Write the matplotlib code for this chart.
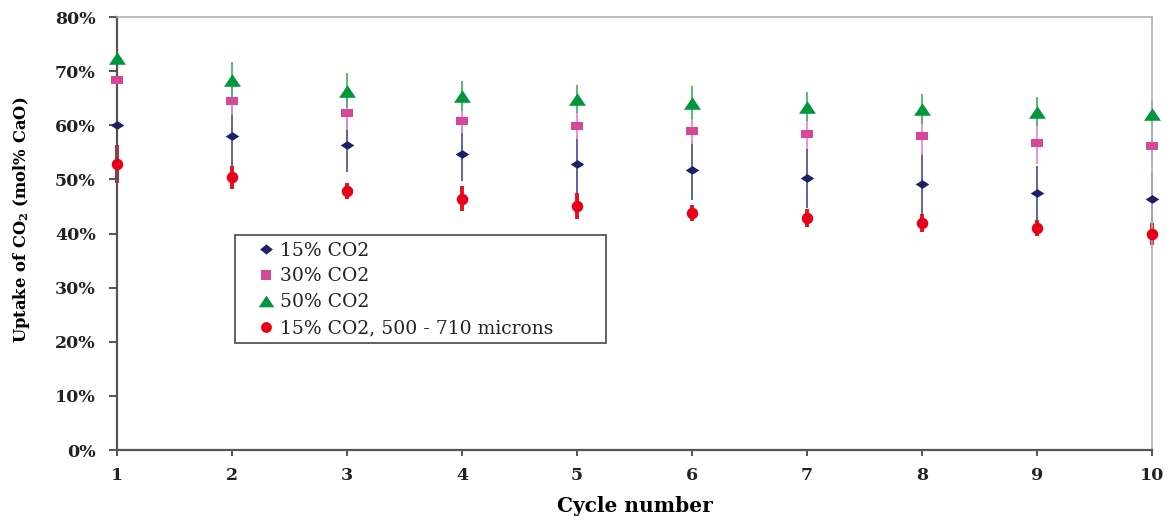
import matplotlib
matplotlib.use("Agg")
import matplotlib.pyplot as plt
from matplotlib.lines import Line2D
from matplotlib.patches import Rectangle
from matplotlib.ticker import PercentFormatter

cycles = [1, 2, 3, 4, 5, 6, 7, 8, 9, 10]

co2_15 = [60.0, 58.0, 56.3, 54.6, 52.8, 51.7, 50.2, 49.2, 47.4, 46.4]
co2_15_err = [5.7, 5.5, 4.9, 4.9, 5.3, 5.5, 5.5, 5.7, 5.0, 4.9]

co2_30 = [68.4, 64.5, 62.3, 60.8, 59.9, 59.0, 58.4, 58.0, 56.8, 56.2]
co2_30_err = [2.8, 2.6, 3.2, 2.3, 2.5, 2.5, 2.7, 3.5, 3.9, 4.1]

co2_50 = [72.4, 68.3, 66.4, 65.4, 64.8, 64.2, 63.4, 63.0, 62.5, 62.0]
co2_50_err = [3.5, 3.3, 3.3, 2.8, 2.6, 3.1, 2.7, 2.7, 2.7, 2.4]

co2_15_big = [52.8, 50.4, 47.9, 46.4, 45.1, 43.8, 42.9, 41.9, 41.0, 39.9]
co2_15_big_err = [3.5, 2.1, 1.5, 2.3, 2.4, 1.5, 1.7, 1.7, 1.5, 2.0]

labels = ["15% CO2", "30% CO2", "50% CO2", "15% CO2, 500 - 710 microns"]

plt.rcParams['font.family'] = ['DejaVu Serif']
plt.rcParams['mathtext.fontset'] = 'custom'
plt.rcParams['mathtext.rm'] = 'DejaVu Serif'
plt.rcParams['mathtext.bf'] = 'DejaVu Serif:bold'

# wide, flattened marker shapes
diamond = [(-1, 0), (0, 0.64), (1, 0), (0, -0.64), (-1, 0)]
rect = [(-1, -0.7), (1, -0.7), (1, 0.7), (-1, 0.7), (-1, -0.7)]
tri = [(-1, -0.74), (1, -0.74), (0, 0.74), (-1, -0.74)]
leg_diamond = [(-1, 0), (0, 0.8), (1, 0), (0, -0.8), (-1, 0)]

fig = plt.figure(figsize=(11.67, 5.16), dpi=100)
ax = fig.add_axes([0.1003, 0.1279, 0.8868, 0.8391])

series = [
    (co2_15, co2_15_err, '#56569a', 1.3, '#1f1f66', diamond, 9.8),
    (co2_30, co2_30_err, '#ee8cc6', 1.3, '#d6479a', rect, 9.0),
    (co2_50, co2_50_err, '#48b76a', 1.3, '#00973c', tri, 12.2),
    (co2_15_big, co2_15_big_err, '#e8101c', 2.8, '#e8001a', 'o', 8.3),
]

for vals, errs, ecol, elw, mcol, mk, ms in series:
    ax.errorbar(cycles, vals, yerr=errs, fmt='none', ecolor=ecol,
                elinewidth=elw, capsize=0, zorder=2, clip_on=False)
for vals, errs, ecol, elw, mcol, mk, ms in series:
    ax.plot(cycles, vals, linestyle='none', marker=mk, markersize=ms,
            color=mcol, markeredgewidth=0, zorder=3, clip_on=False)

ax.set_xlim(1, 10)
ax.set_ylim(0, 80)
ax.set_xticks(cycles)
ax.set_yticks(range(0, 81, 10))
ax.yaxis.set_major_formatter(PercentFormatter(decimals=0))

for s in ['left', 'bottom']:
    ax.spines[s].set_color('#555555')
    ax.spines[s].set_linewidth(1.6)
for s in ['top', 'right']:
    ax.spines[s].set_color('#b0b0b0')
    ax.spines[s].set_linewidth(1.2)

ax.tick_params(axis='y', direction='out', length=6, width=1.4, color='#555555',
               pad=9.5, labelsize=12.5, labelcolor='#222222')
ax.tick_params(axis='x', direction='out', length=4.5, width=1.4, color='#555555',
               pad=7.5, labelsize=12.5, labelcolor='#222222')
for lab in ax.get_xticklabels() + ax.get_yticklabels():
    lab.set_fontweight('bold')

ax.set_xlabel('Cycle number', fontsize=14.5, fontweight='bold', labelpad=9)
ax.set_ylabel(r'Uptake of CO$_\mathbf{2}$ (mol% CaO)', fontsize=11.8,
              fontweight='bold')
ax.yaxis.set_label_coords(-0.082, 0.531)

handles = [
    Line2D([], [], linestyle='none', marker=leg_diamond, markersize=9.2, color='#1f1f66', markeredgewidth=0),
    Line2D([], [], linestyle='none', marker='s', markersize=7.8, color='#d6479a', markeredgewidth=0),
    Line2D([], [], linestyle='none', marker=tri, markersize=11.3, color='#00973c', markeredgewidth=0),
    Line2D([], [], linestyle='none', marker='o', markersize=7.8, color='#e8001a', markeredgewidth=0),
]
leg = ax.legend(handles, labels, loc='upper left', bbox_to_anchor=(0.1353, 0.4815),
                borderaxespad=0, borderpad=0, frameon=False, fontsize=13.5,
                handlelength=0.96, handletextpad=0.27, labelspacing=0.42)
for t in leg.get_texts():
    t.set_color('#222222')

ax.add_patch(Rectangle((0.114, 0.2471), 0.3585, 0.2494, transform=ax.transAxes,
                       fill=True, facecolor='white', edgecolor='#555555',
                       linewidth=1.3, zorder=4))
leg.set_zorder(5)

fig.savefig('out.png', dpi=100)
